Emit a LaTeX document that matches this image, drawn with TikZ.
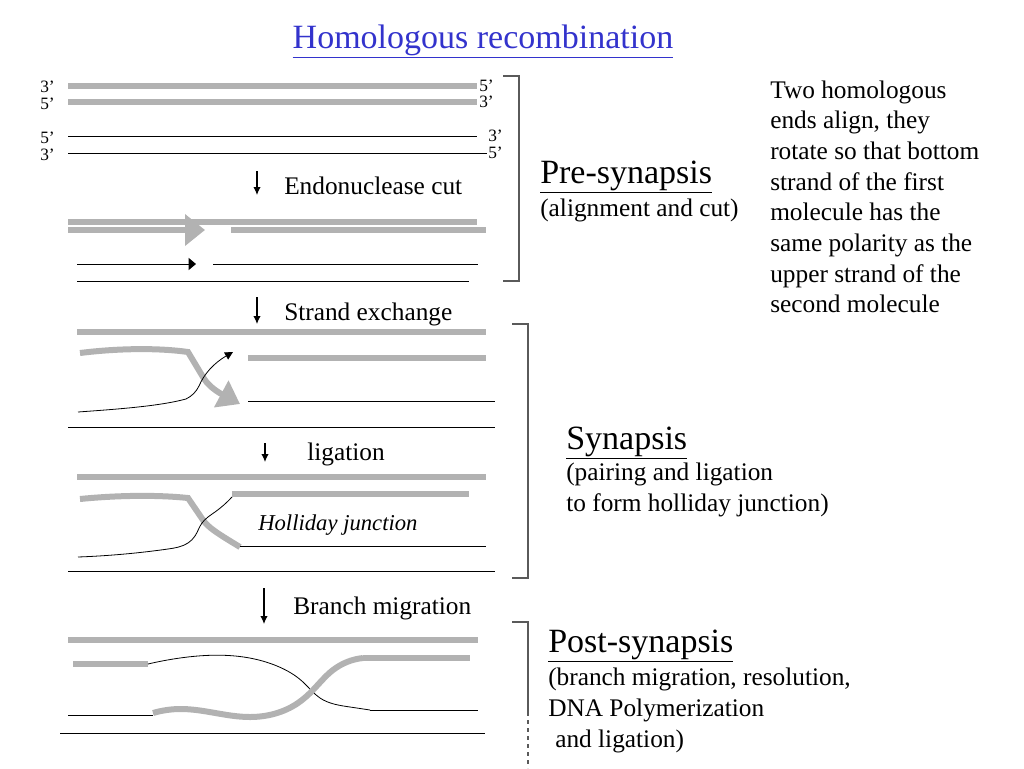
\documentclass[tikz,border=0pt]{standalone}
\usepackage{fontspec}
\setmainfont{Liberation Serif}
\usetikzlibrary{arrows.meta,hobby}
\definecolor{strandgray}{RGB}{178,178,178}
\definecolor{titleblue}{RGB}{51,51,204}
\definecolor{bracketgray}{RGB}{90,90,90}
\tikzset{>=stealth}
\tikzset{
  gstrand/.style={line width=4.5pt,strandgray},
  bstrand/.style={line width=0.6pt,black},
  bigtext/.style={font=\fontsize{25.5}{30}\selectfont,inner sep=0pt},
  midtext/.style={font=\fontsize{19}{23}\selectfont,inner sep=0pt},
  endlabel/.style={font=\fontsize{13}{15}\selectfont,inner sep=0pt},
  steparrow/.style={-{Latex[length=6pt,width=5.5pt]},line width=0.8pt},
  phasebracket/.style={bracketgray,line width=0.9pt}
}

\begin{document}
\begin{tikzpicture}[x=0.75pt,y=-0.75pt]
    \useasboundingbox (0,0) rectangle (1024,768);
    \node[bigtext,titleblue,anchor=base] (title) at (483,48) {\underline{Homologous recombination}};

    % two molecules before the cut
    \draw[gstrand] (68,86) -- (477,86);
    \draw[gstrand] (68,102) -- (477,102);
    \draw[bstrand] (68,136) -- (477,136);
    \draw[bstrand] (68,153) -- (487,153);
    \node[endlabel,anchor=east] (g1l) at (55,87) {3’};
    \node[endlabel,anchor=east] (g2l) at (55,104) {5’};
    \node[endlabel,anchor=east] (b1l) at (55,138) {5’};
    \node[endlabel,anchor=east] (b2l) at (55,155) {3’};
    \node[endlabel,anchor=west] (g1r) at (479,86) {5’};
    \node[endlabel,anchor=west] (g2r) at (479,102) {3’};
    \node[endlabel,anchor=west] (b1r) at (488,136) {3’};
    \node[endlabel,anchor=west] (b2r) at (488,153) {5’};

    \coordinate (cutA) at (257,171);
    \coordinate (cutB) at (257,195);
    \draw[steparrow] (cutA) -- (cutB);
    \node[midtext,anchor=base west] (cut) at (284,194) {Endonuclease cut};

    % after the cut
    \draw[gstrand] (68,222) -- (477,222);
    \draw[gstrand,-{Triangle[length=15pt,width=23pt]}] (68,230) -- (205,230);
    \draw[gstrand] (231,230) -- (486,230);
    \draw[bstrand,-{Triangle[length=5.5pt,width=9pt]}] (77,264) -- (196,264);
    \draw[bstrand] (213,264) -- (478,264);
    \draw[bstrand] (77,281) -- (469,281);

    \draw[phasebracket] (503,76) -| (519,281) -- (503,281);
    \node[bigtext,anchor=base west] (pre) at (540,183) {\underline{Pre-synapsis}};
    \node[midtext,anchor=base west] (prenote) at (540,216) {(alignment and cut)};

    \foreach \txt [count=\i] in {Two homologous, {ends align, they}, rotate so that bottom, strand of the first, molecule has the, same polarity as the, upper strand of the, second molecule}
        \node[midtext,anchor=base west] (note\i) at (770,{98+30.7*(\i-1)}) {\txt};

    \coordinate (exA) at (257,297);
    \coordinate (exB) at (257,324);
    \draw[steparrow] (exA) -- (exB);
    \node[midtext,anchor=base west] (exchange) at (284,320) {Strand exchange};

    % strand exchange
    \draw[gstrand] (77,332) -- (486,332);
    \draw[gstrand,-{Triangle[length=16pt,width=22pt]}] (80,353) .. controls (120,348) and (160,348) .. (188,352) -- (203,377) .. controls (207,384) and (214,390) .. (240,404);
    \draw[gstrand] (248,358) -- (486,358);
    \draw[bstrand] (248,401) -- (495,401);
    \draw[bstrand,-{Triangle[length=6pt,width=6pt]}] (78,412) .. controls (120,409) and (160,406) .. (186,399) .. controls (192,396) and (196,392) .. (199,386) .. controls (204,374) and (214,363) .. (233,352);
    \draw[bstrand] (68,427) -- (495,427);

    \coordinate (ligA) at (265,443);
    \coordinate (ligB) at (265,462);
    \draw[steparrow] (ligA) -- (ligB);
    \node[midtext,anchor=base west] (ligation) at (307,460) {ligation};

    % holliday junction
    \draw[gstrand] (77,477) -- (486,477);
    \draw[gstrand] (80,499) .. controls (120,495) and (160,495) .. (188,498) -- (203,520) .. controls (208,527) and (215,532) .. (240,547);
    \draw[gstrand] (232,494) -- (469,494);
    \draw[bstrand] (240,546) -- (486,546);
    \draw[bstrand,use Hobby shortcut] (78,557) .. (168,549) .. (188,543) .. (195,536) .. (202,523) .. (215,512) .. (232,497);
    \draw[bstrand] (68,571) -- (495,571);
    \node[font=\fontsize{17}{20}\selectfont\itshape,inner sep=0pt,anchor=base west] (hj) at (258,530) {Holliday junction};

    \draw[phasebracket] (512,324) -| (528,578) -- (512,578);
    \node[bigtext,anchor=base west] (syn) at (566,449) {\underline{Synapsis}};
    \node[midtext,anchor=base west] (syn1) at (566,480) {(pairing and ligation};
    \node[midtext,anchor=base west] (syn2) at (566,511) {to form holliday junction)};

    \coordinate (brA) at (264,588);
    \coordinate (brB) at (264,624);
    \draw[steparrow] (brA) -- (brB);
    \node[midtext,anchor=base west] (branch) at (293,614) {Branch migration};

    % branch migration
    \draw[gstrand] (68,640) -- (478,640);
    \draw[gstrand] (73,664) -- (148,664);
    \draw[bstrand,use Hobby shortcut] (148,664) .. (180,658) .. (277,666) .. (303,682) .. (320,698) .. (350,707) .. (370,710);
    \draw[bstrand] (370,710) -- (478,710);
    \draw[gstrand,use Hobby shortcut] (153,713) .. (180,709) .. (250,717) .. (298,703) .. (313,690) .. (333,670) .. (363,658);
    \draw[gstrand] (363,658) -- (470,658);
    \draw[bstrand] (68,715) -- (153,715);
    \draw[bstrand] (60,733) -- (485,733);

    \draw[phasebracket] (512,622) -| (528,712);
    \draw[phasebracket,dashed] (528,712) -- (528,768);
    \node[bigtext,anchor=base west] (post) at (548,652) {\underline{Post-synapsis}};
    \node[midtext,anchor=base west] (post1) at (548,685) {(branch migration, resolution,};
    \node[midtext,anchor=base west] (post2) at (548,716) {DNA Polymerization};
    \node[midtext,anchor=base west] (post3) at (555,747) {and ligation)};
\end{tikzpicture}
\end{document}
